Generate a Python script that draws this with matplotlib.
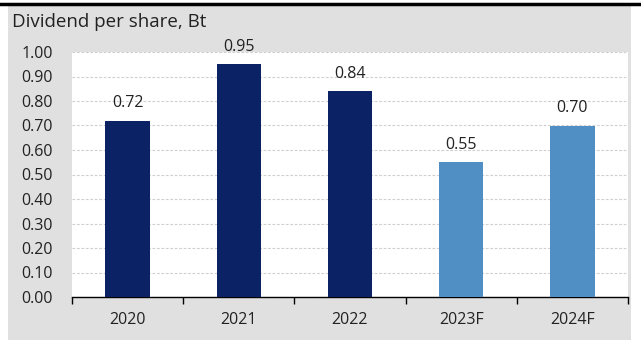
import matplotlib
matplotlib.use("Agg")
import matplotlib.pyplot as plt
from matplotlib.patches import Rectangle
import numpy as np

plt.rcParams["font.family"] = ["Open Sans", "DejaVu Sans"]

years = ["2020", "2021", "2022", "2023F", "2024F"]
dps = [0.72, 0.95, 0.84, 0.55, 0.70]
forecast = [False, False, False, True, True]

DARK = "#0b2265"
LIGHT = "#4f8fc4"
BG = "#e0e0e0"
TXT = "#222222"

W, H = 641, 340
fig = plt.figure(figsize=(W / 100, H / 100), dpi=100)
fig.patch.set_facecolor("white")

# grey panel and black top rule
fig.add_artist(Rectangle((8 / W, 0), (631 - 8) / W, (H - 4) / H,
                         transform=fig.transFigure, facecolor=BG, edgecolor="none", zorder=0))
fig.add_artist(plt.Line2D([0, 1], [1 - 3.5 / H, 1 - 3.5 / H], transform=fig.transFigure,
                          color="black", lw=2.5))
fig.text(12 / W, 1 - 27 / H, "Dividend per share, Bt", fontsize=13.5, va="baseline", ha="left",
         color=TXT)

left, right, top, bottom = 72, 628, 52, 297
ax = fig.add_axes([left / W, 1 - bottom / H, (right - left) / W, (bottom - top) / H])
ax.set_facecolor("white")

x = np.arange(len(years))
colors = [LIGHT if f else DARK for f in forecast]
ax.bar(x, dps, width=0.40, color=colors, zorder=3)
for xi, v in zip(x, dps):
    ax.text(xi, v + 0.055, f"{v:.2f}", ha="center", va="baseline", fontsize=11.5, color=TXT)

ax.set_xlim(-0.5, len(years) - 0.5)
ax.set_ylim(0, 1.0)
ticks = np.arange(0, 1.01, 0.1)
ax.set_yticks(ticks)
ax.set_yticklabels([f"{t:.2f}" for t in ticks], fontsize=11.5, color=TXT)
ax.tick_params(axis="y", length=0, pad=13.5)
ax.yaxis.grid(True, color="#d0d0d0", linestyle=(0, (2.5, 1.5)), lw=0.8, zorder=0)
ax.set_axisbelow(True)

ax.set_xticks(x)
ax.set_xticklabels(years, fontsize=11.5, color=TXT)
ax.tick_params(axis="x", length=0, pad=11)
ax.set_xticks(np.arange(-0.5, len(years), 1.0), minor=True)
ax.tick_params(axis="x", which="minor", length=5, width=1, color="black")

for s in ["left", "right", "top"]:
    ax.spines[s].set_visible(False)
ax.spines["bottom"].set_color("black")
ax.spines["bottom"].set_linewidth(1)

fig.savefig("out.png", dpi=100, facecolor=fig.get_facecolor())
